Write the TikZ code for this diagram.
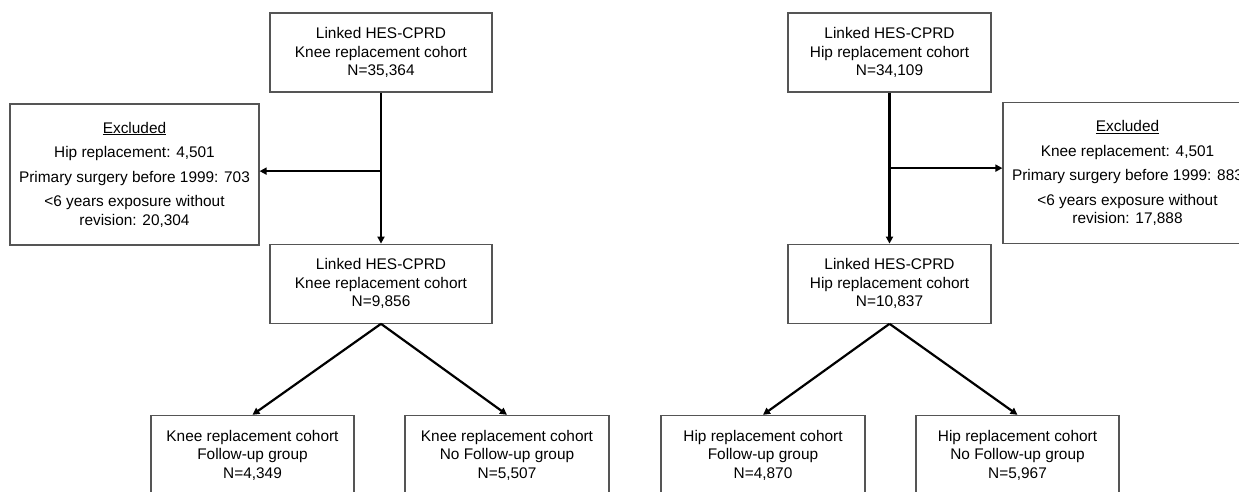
\documentclass[tikz,border=0pt]{standalone}
\usepackage{fontspec}
\setmainfont{Liberation Sans}
\usepackage{xcolor}
\usetikzlibrary{arrows.meta,positioning,calc}

\definecolor{boxline}{HTML}{555555}

\begin{document}
\begin{tikzpicture}[
    x=1pt, y=-1pt,
    box/.style={draw=boxline, line width=1.2pt, minimum height=79pt, inner sep=0pt,
        align=center, font=\fontsize{15.4}{18.5}\selectfont},
    excl/.style={box, minimum width=249pt, minimum height=141pt},
    arrow/.style={-{Triangle[length=7pt, width=7pt]}, line width=2.2pt},
]
\clip (0,0) rectangle (1239,491);

% Knee replacement flow
\node[box, minimum width=222pt] (ktop) at (381,52.5) {Linked HES-CPRD\\Knee replacement cohort\\N=35,364};
\node[box, minimum width=222pt, below=151pt of ktop] (kmid) {Linked HES-CPRD\\Knee replacement cohort\\N=9,856};
\node[excl] (kexcl) at (134.5,174.5) {\underline{Excluded}\\[6pt]Hip replacement: 4,501\\[6pt]Primary surgery before 1999: 703\\[6pt]{<}6 years exposure without\\revision: 20,304};
\node[box, minimum width=203pt, below=91pt of kmid, xshift=-128.5pt] (kfu) {Knee replacement cohort\\Follow-up group\\N=4,349};
\node[box, minimum width=204pt, below=91pt of kmid, xshift=126pt] (knofu) {Knee replacement cohort\\No Follow-up group\\N=5,507};

\coordinate (kjoin) at ($(ktop.south)!0.52!(kmid.north)$);
\draw[arrow] (ktop) -- (kmid);
\draw[arrow] (kjoin) -- (kjoin -| kexcl.east);
\draw[arrow] (kmid.south) -- (kfu.north);
\draw[arrow] (kmid.south) -- (knofu.north);

% Hip replacement flow
\node[box, minimum width=203pt] (htop) at (889.5,52.5) {Linked HES-CPRD\\Hip replacement cohort\\N=34,109};
\node[box, minimum width=203pt, below=151pt of htop] (hmid) {Linked HES-CPRD\\Hip replacement cohort\\N=10,837};
\node[excl] (hexcl) at (1127.5,173) {\underline{Excluded}\\[6pt]Knee replacement: 4,501\\[6pt]Primary surgery before 1999: 883\\[6pt]{<}6 years exposure without\\revision: 17,888};
\node[box, minimum width=204pt, below=91pt of hmid, xshift=-126.5pt] (hfu) {Hip replacement cohort\\Follow-up group\\N=4,870};
\node[box, minimum width=203pt, below=91pt of hmid, xshift=128pt] (hnofu) {Hip replacement cohort\\No Follow-up group\\N=5,967};

\coordinate (hjoin) at ($(htop.south)!0.5!(hmid.north)$);
\draw[arrow] (htop) -- (hmid);
\draw[arrow] (hjoin) -- (hjoin -| hexcl.west);
\draw[arrow] (hmid.south) -- (hfu.north);
\draw[arrow] (hmid.south) -- (hnofu.north);

\end{tikzpicture}
\end{document}
